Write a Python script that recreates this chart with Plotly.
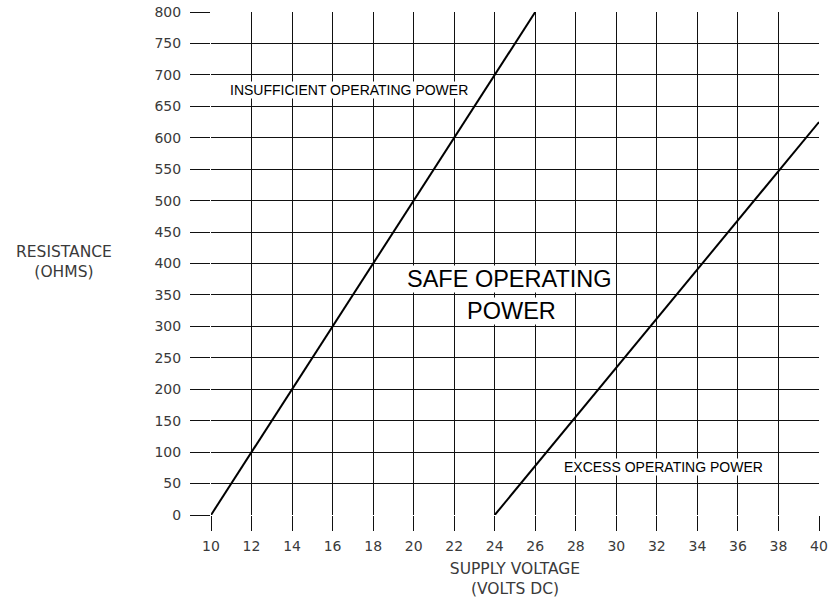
import plotly.graph_objects as go

# Boundary lines: minimum and maximum loop resistance vs. supply voltage
min_voltage = [10, 26]
min_resistance = [0, 800]
max_voltage = [24, 40]
max_resistance = [0, 625]

x_ticks = list(range(10, 41, 2))
y_ticks = list(range(0, 801, 50))

fig = go.Figure()
fig.add_trace(go.Scatter(x=min_voltage, y=min_resistance, mode="lines",
                         line=dict(color="black", width=2), showlegend=False,
                         cliponaxis=False))
fig.add_trace(go.Scatter(x=max_voltage, y=max_resistance, mode="lines",
                         line=dict(color="black", width=2), showlegend=False,
                         cliponaxis=False))

tick_font = dict(family="DejaVu Sans", size=14, color="#3a3a3a")
title_font = dict(family="DejaVu Sans", size=15.5, color="#3a3a3a")
label_font = dict(family="Liberation Sans, Arial", color="black")

fig.update_layout(
    width=832, height=598,
    margin=dict(l=211, r=13, t=12, b=83),
    paper_bgcolor="white", plot_bgcolor="white",
    xaxis=dict(range=[10, 40], tickvals=x_ticks, showgrid=True, automargin=False,
               gridcolor="#111", gridwidth=1.2, zeroline=False, showline=False,
               ticks="outside", ticklen=15, tickcolor="#111", tickwidth=1.2,
               tickfont=tick_font, ticklabelstandoff=3,
               title=dict(text="SUPPLY VOLTAGE<br>(VOLTS DC)", font=title_font, standoff=10)),
    yaxis=dict(range=[0, 800], tickvals=y_ticks, showgrid=True, automargin=False,
               gridcolor="#111", gridwidth=1.2, zeroline=False, showline=False,
               ticks="outside", ticklen=20, tickcolor="#111", tickwidth=1.2,
               tickfont=tick_font, ticklabelstandoff=6),
    annotations=[
        dict(text="RESISTANCE<br>(OHMS)", xref="paper", yref="y", x=-0.241, y=403,
             showarrow=False, font=title_font, align="center", xanchor="center"),
        dict(text="INSUFFICIENT OPERATING POWER", x=16.81, y=676, showarrow=False,
             font=dict(size=14, **label_font), bgcolor="white", borderpad=0),
        dict(text="SAFE OPERATING", x=24.75, y=375, showarrow=False,
             font=dict(size=23.5, **label_font), bgcolor="white", borderpad=0),
        dict(text="POWER", x=24.85, y=325, showarrow=False,
             font=dict(size=23.5, **label_font), bgcolor="white", borderpad=0),
        dict(text="EXCESS OPERATING POWER", x=32.35, y=76, showarrow=False,
             font=dict(size=14, **label_font), bgcolor="white", borderpad=0),
    ],
)

fig.write_html("out.html")
